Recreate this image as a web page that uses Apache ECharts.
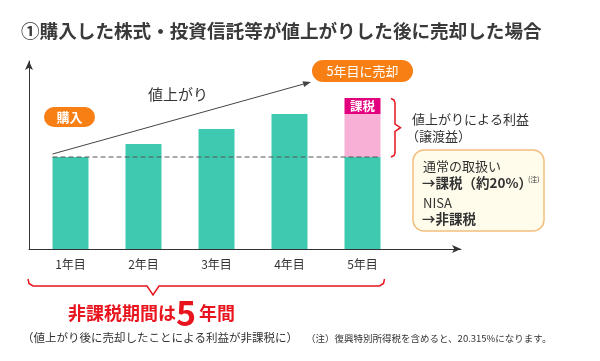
<!DOCTYPE html>
<html><head><meta charset="utf-8">
<script src="https://cdn.jsdelivr.net/npm/echarts@6/dist/echarts.min.js"></script>
<style>html,body{margin:0;padding:0;background:#fff}#c{width:600px;height:361px}</style>
</head><body><div id="c"></div>
<script>
const categories = ['1年目', '2年目', '3年目', '4年目', '5年目'];
const baseValues = [92, 105, 120, 135, 92];
const gainValues = ['-', '-', '-', '-', 43];
const gainLabelText = '課税';
const titleText = '①購入した株式・投資信託等が値上がりした後に売却した場合';

const FONT = '"Noto Sans CJK JP", "Noto Sans", sans-serif';
const TEAL = '#3ECAB0', PINK = '#F8B0D6', MAGENTA = '#E3007F', ORANGE = '#F77F14', RED = '#E8141E', DARK = '#333';

const chart = echarts.init(document.getElementById('c'), null, {renderer: 'canvas'});

const gainData = gainValues.map(v => v === '-' ? '-' : {
  value: v,
  label: {
    show: true, position: 'top', distance: 0, formatter: gainLabelText,
    backgroundColor: MAGENTA, color: '#fff', fontFamily: FONT, fontSize: 12.5, fontWeight: 'bold',
    width: 36, height: 16, lineHeight: 16, align: 'center', padding: 0
  }
});

const arrowAxis = () => ({
  type: 'value', gridIndex: 0, min: 0, max: 1,
  axisLine: {show: true, symbol: ['none', 'arrow'], symbolSize: [6, 9], lineStyle: {color: DARK, width: 1}},
  axisTick: {show: false}, axisLabel: {show: false}, splitLine: {show: false}
});

chart.setOption({
  animation: false,
  textStyle: {fontFamily: FONT},
  title: {text: titleText, left: 16, top: 17, textStyle: {fontFamily: FONT, fontSize: 18.6, fontWeight: 'bold', color: '#3a3a3a'}},
  grid: [
    {left: 29, right: 139, top: 61, bottom: 112},
    {left: 34, width: 365, top: 49, bottom: 112}
  ],
  xAxis: [
    arrowAxis(),
    {type: 'category', gridIndex: 1, data: categories,
     axisLine: {show: false}, axisTick: {show: false},
     axisLabel: {fontFamily: FONT, fontSize: 12, color: DARK, margin: 9}}
  ],
  yAxis: [
    arrowAxis(),
    {type: 'value', gridIndex: 1, min: 0, max: 200, show: false}
  ],
  series: [
    {type: 'bar', xAxisIndex: 1, yAxisIndex: 1, stack: 'v', barWidth: 36, data: baseValues, itemStyle: {color: TEAL}},
    {type: 'bar', xAxisIndex: 1, yAxisIndex: 1, stack: 'v', barWidth: 36, data: gainData, itemStyle: {color: PINK}}
  ]
});

// annotations positioned from the library's scales
const bw = 36;
const p1 = chart.convertToPixel({seriesIndex: 0}, [0, baseValues[0]]);
const p5 = chart.convertToPixel({seriesIndex: 0}, [4, baseValues[4]]);
const p5top = chart.convertToPixel({seriesIndex: 0}, [4, baseValues[4] + gainValues[4]]);
const x0 = p1[0] - bw / 2, y0 = p1[1];
const x5r = p5[0] + bw / 2;

const ax0 = x0, ay0 = y0 - 3, ax1 = 311, ay1 = 82;
const ang = Math.atan2(ay1 - ay0, ax1 - ax0);
const ah = 8, aw = 3;
const bxp = ax1 - ah * Math.cos(ang), byp = ay1 - ah * Math.sin(ang);
const arrowHead = [[ax1, ay1], [bxp + aw * Math.sin(ang), byp - aw * Math.cos(ang)], [bxp - aw * Math.sin(ang), byp + aw * Math.cos(ang)]];

const t = (text, x, y, o) => ({type: 'text', x, y, z: 20, style: Object.assign({text, fontFamily: FONT, fontSize: 13, fill: DARK, verticalAlign: 'middle', align: 'left'}, o || {})});
const pill = (text, x, y, w, h, fs, fw) => ({
  type: 'group', z: 20, children: [
    {type: 'rect', shape: {x, y, width: w, height: h, r: h / 2}, style: {fill: ORANGE}},
    {type: 'text', x: x + w / 2, y: y + h / 2 + 0.5, style: {text, fontFamily: FONT, fontSize: fs, fontWeight: fw, fill: '#fff', align: 'center', verticalAlign: 'middle'}}
  ]
});

const by = p5top[1];
chart.setOption({graphic: [
  {type: 'line', z: 20, shape: {x1: x0, y1: y0, x2: x5r, y2: y0}, style: {stroke: '#555', lineWidth: 1, lineDash: [5, 3]}},
  {type: 'line', z: 20, shape: {x1: ax0, y1: ay0, x2: bxp, y2: byp}, style: {stroke: '#444', lineWidth: 1}},
  {type: 'polygon', z: 20, shape: {points: arrowHead}, style: {fill: '#444'}},
  pill('購入', 44, 107, 51, 20, 13, 'bold'),
  pill('5年目に売却', 312, 60, 101, 22, 13, 'normal'),
  t('値上がり', 148, 94, {fontSize: 15}),
  {type: 'polyline', z: 20, shape: {points: [[391, by - 15.5], [394, by - 14], [395, by - 11], [395, 124], [400.5, 127.7], [395, 131.5], [395, y0 - 4], [394, y0 - 1.5], [391, y0]]}, style: {stroke: RED, lineWidth: 1.5, fill: null}},
  t('値上がりによる利益', 412, 119),
  t('（譲渡益）', 406, 136),
  {type: 'rect', z: 15, shape: {x: 413, y: 150, width: 131, height: 81, r: 11}, style: {fill: '#FFFCEC', stroke: '#F3BE7E', lineWidth: 1.5}},
  t('通常の取扱い', 423, 166),
  t('→課税（約20%）', 422, 183, {fontWeight: 'bold', fontSize: 13.5}),
  t('(注)', 528, 179, {fontSize: 7}),
  t('NISA', 423, 203),
  t('→非課税', 422, 219, {fontWeight: 'bold', fontSize: 13.5}),
  {type: 'polyline', z: 20, shape: {points: [[28, 279], [29, 283.5], [33, 286], [147, 286], [153, 295], [159, 286], [x5r - 1, 286], [x5r + 3, 283.5], [x5r + 4, 279]]}, style: {stroke: RED, lineWidth: 1.5, fill: null}},
  t('非課税期間は', 68, 313, {fontSize: 18, fontWeight: 'bold', fill: RED}),
  t('5', 176, 313, {fontSize: 34, fontWeight: 'bold', fill: RED}),
  t('年間', 199, 313, {fontSize: 18, fontWeight: 'bold', fill: RED}),
  t('（値上がり後に売却したことによる利益が非課税に）', 22, 338, {fontSize: 11.5}),
  t('（注）復興特別所得税を含めると、20.315%になります。', 306, 338, {fontSize: 9.5})
]});
</script></body></html>
